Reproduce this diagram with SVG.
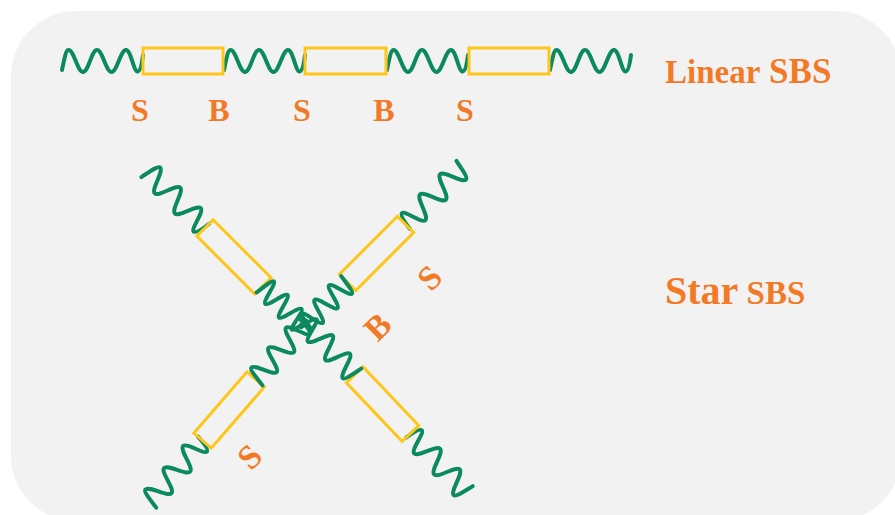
<svg xmlns="http://www.w3.org/2000/svg" xmlns:xlink="http://www.w3.org/1999/xlink" width="895" height="515" viewBox="0 0 895 515">
  <style>
    .spring { fill: none; stroke: #0b8a5e; stroke-width: 4; stroke-linecap: round; stroke-linejoin: round; }
    .bead { fill: none; stroke: #ffc61a; stroke-width: 3; }
    .lbl { font-family: "Liberation Serif", "Times New Roman", serif; font-weight: bold; fill: #f27a26; }
  </style>
  <defs>
    <path id="wave" class="spring" vector-effect="non-scaling-stroke" d="M0,9 C2,0 3.5,-11 6.5,-11 C12,-11 15.5,11 21,11 C26.5,11 29.5,-11 35,-11 C40.5,-11 44,11 49.5,11 C55,11 58.5,-11 64,-11 C69,-11 71.5,10.5 75.5,10.5 C78.5,10.5 80,2 81,-6"/>
  </defs>

  <rect id="background" x="11" y="11" width="890" height="510" rx="65" ry="65" fill="#f2f2f2"/>

  <!-- Linear SBS chain -->
  <g id="linear-chain">
    <g id="linear-connectors">
      <use xlink:href="#wave" href="#wave" transform="translate(62,61)"/>
      <use xlink:href="#wave" href="#wave" transform="translate(224,61)"/>
      <use xlink:href="#wave" href="#wave" transform="translate(387,61)"/>
      <use xlink:href="#wave" href="#wave" transform="translate(550,61)"/>
    </g>
    <g id="linear-b1"><rect class="bead" x="143" y="48" width="80" height="26"/></g>
    <g id="linear-b2"><rect class="bead" x="305" y="48" width="81" height="26"/></g>
    <g id="linear-b3"><rect class="bead" x="469" y="48" width="80" height="26"/></g>
  </g>
  <g id="linear-labels" class="lbl" font-size="32" text-anchor="middle">
    <text x="140" y="121">S</text>
    <text x="219" y="121">B</text>
    <text x="302" y="121">S</text>
    <text x="384" y="121">B</text>
    <text x="465" y="121">S</text>
  </g>
  <text id="title-linear" class="lbl" x="665" y="83"><tspan font-size="33">Linear</tspan><tspan font-size="35"> SBS</tspan></text>

  <!-- Star SBS -->
  <g id="star">
    <g id="arm-upper-left" transform="translate(147.7,170.7) rotate(45)">
      <use xlink:href="#wave" href="#wave"/>
      <rect class="bead" x="81" y="-11.5" width="82" height="23"/>
      <use xlink:href="#wave" href="#wave" transform="translate(163,0) scale(0.68,1)"/>
    </g>
    <g id="arm-upper-right" transform="translate(462.8,167.2) rotate(135)">
      <use xlink:href="#wave" href="#wave"/>
      <rect class="bead" x="81" y="-11.5" width="82" height="23"/>
      <use xlink:href="#wave" href="#wave" transform="translate(163,0) scale(0.72,1)"/>
    </g>
    <g id="arm-lower-left" transform="translate(149.4,501.7) rotate(-49)">
      <use xlink:href="#wave" href="#wave"/>
      <rect class="bead" x="81" y="-11.5" width="81" height="23"/>
      <use xlink:href="#wave" href="#wave" transform="translate(162,0) scale(0.92,1)"/>
    </g>
    <g id="arm-lower-right" transform="translate(466.2,492.3) rotate(-133.5)">
      <use xlink:href="#wave" href="#wave"/>
      <rect class="bead" x="81" y="-11.5" width="81" height="23"/>
      <use xlink:href="#wave" href="#wave" transform="translate(162,0) scale(0.88,1)"/>
    </g>
  </g>
  <g id="star-labels" class="lbl" font-size="34" text-anchor="middle">
    <text transform="translate(430,278) rotate(-45)" y="11">S</text>
    <text transform="translate(378,327) rotate(-45)" y="11">B</text>
    <text transform="translate(250,457) rotate(-45)" y="11">S</text>
  </g>
  <text id="title-star" class="lbl" x="665" y="304"><tspan font-size="40">Star</tspan><tspan font-size="33"> SBS</tspan></text>
</svg>
